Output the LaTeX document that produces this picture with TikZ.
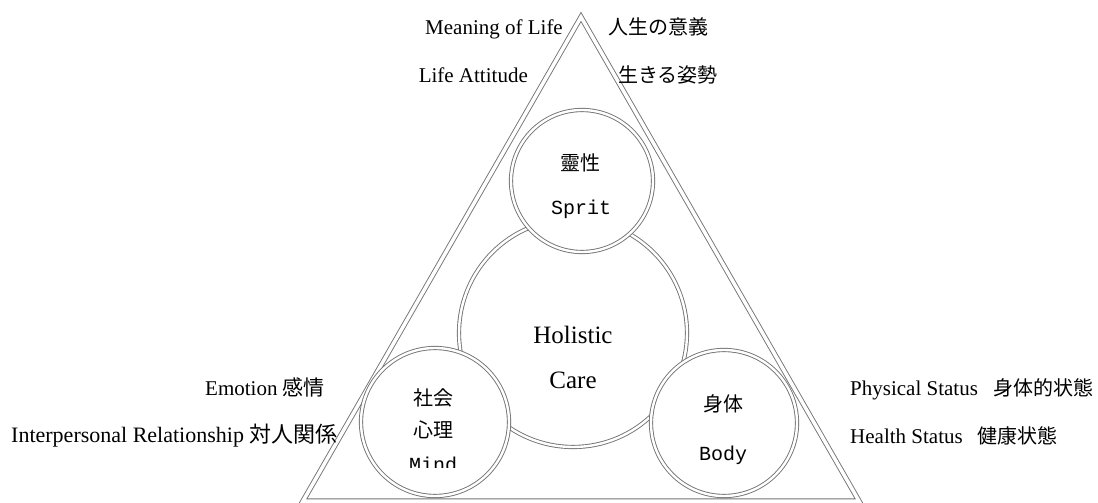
\documentclass[tikz,border=0pt]{standalone}
\usepackage{fontspec}
\setmainfont{Liberation Serif}
\setmonofont{Liberation Mono}
\newfontfamily\cjk{Noto Sans CJK JP}
\definecolor{lg}{gray}{0.45}
\begin{document}
\begin{tikzpicture}[x=1pt,y=-1pt,
  dl/.style={draw=lg, line width=0.9pt, double=white, double distance=2.4pt},
  tri/.style={draw=lg, line width=0.9pt, double=white, double distance=3.5pt, line join=miter},
  circ/.style={dl, fill=white, circle, inner sep=0pt},
  en/.style={font=\fontsize{21}{24}\selectfont, inner sep=0pt},
  jp/.style={font=\fontsize{20}{24}\selectfont\cjk, inner sep=0pt},
  mono/.style={font=\fontsize{20}{24}\selectfont\ttfamily, inner sep=0pt},
  hc/.style={font=\fontsize{25}{28}\selectfont, inner sep=0pt}]
\useasboundingbox (0,0) rectangle (1098,503);
% triangle
\coordinate (A) at (581,17);
\coordinate (B) at (303,501);
\coordinate (C) at (859,501);
\draw[tri] (A) -- (B) -- (C) -- cycle;
% circles
\node[circ, minimum size=228pt] (care) at (573,333) {};
\node[circ, minimum size=142pt] (spirit) at (582,181) {};
\node[circ, minimum size=148pt] (mind) at (435,422) {};
\node[circ, minimum size=146pt] (body) at (724,423) {};
% circle texts
\node[jp, anchor=base] (t1) at (580,170) {靈性};
\node[mono, anchor=base] (t2) at (581,214) {Sprit};
\node[hc, anchor=base] (t3) at (573,343) {Holistic};
\node[hc, anchor=base] (t4) at (573,388) {Care};
\node[jp, anchor=base] (t5) at (433,405) {社会};
\node[jp, anchor=base] (t6) at (433,437) {心理};
\begin{scope}
  \clip (380,440) rectangle (490,467);
  \node[mono, anchor=base] (t7) at (433,471) {Mind};
\end{scope}
\node[jp, anchor=base] (t8) at (723,411) {身体};
\node[mono, anchor=base] (t9) at (723,460) {Body};
% outside labels
\node[en, anchor=base east] (m1) at (563,35) {Meaning of Life};
\node[jp, anchor=base west] (m2) at (608,35) {人生の意義};
\node[en, anchor=base east] (l1) at (528,82) {Life Attitude};
\node[jp, anchor=base west] (l2) at (618,82) {生きる姿勢};
\node[en, anchor=base east] (e1) at (325,395) {Emotion {\cjk 感情}};
\node[en, anchor=base west, font=\fontsize{22}{24}\selectfont] (i1) at (11,442) {Interpersonal Relationship {\cjk 対人関係}};
\node[en, anchor=base west] (p1) at (850,395) {Physical Status};
\node[jp, anchor=base west] (p2) at (993,395) {身体的状態};
\node[en, anchor=base west] (h1) at (850,443) {Health Status};
\node[jp, anchor=base west] (h2) at (977,443) {健康状態};
\end{tikzpicture}
\end{document}
